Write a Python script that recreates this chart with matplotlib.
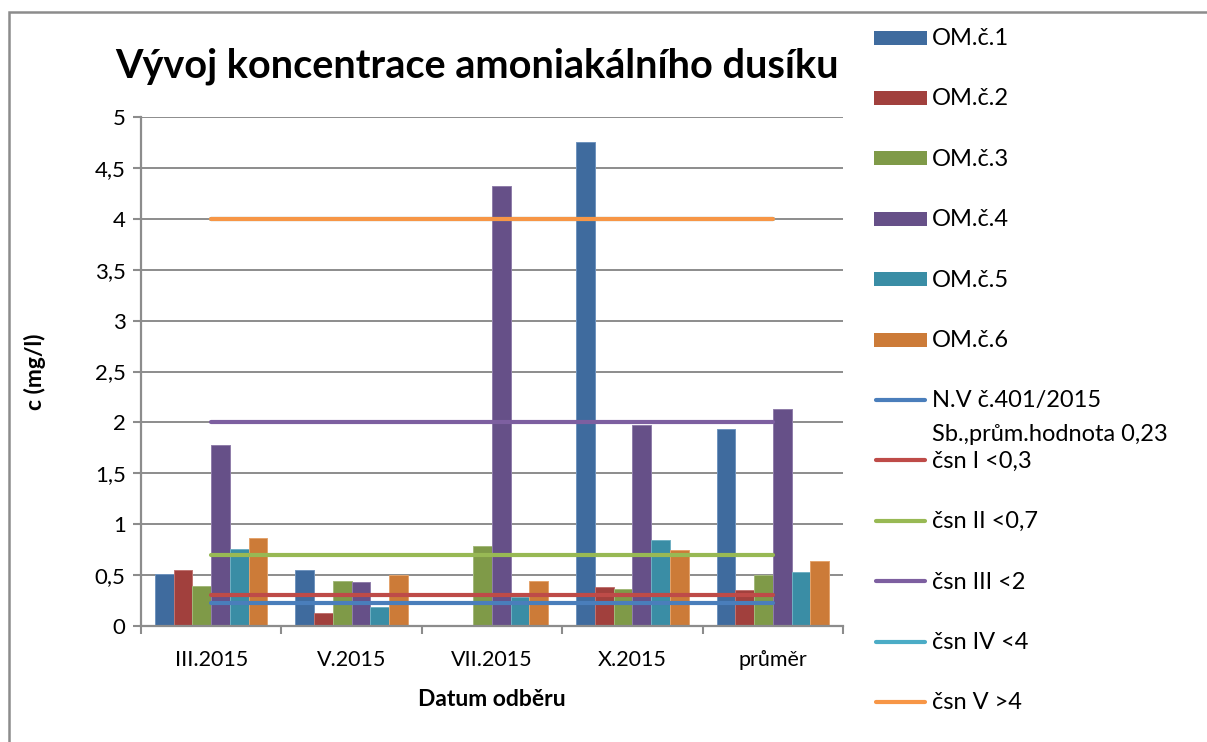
import matplotlib
matplotlib.use("Agg")
import matplotlib.pyplot as plt
from matplotlib.patches import Rectangle
from matplotlib.lines import Line2D
import numpy as np

# ---------------- data ----------------
categories = ["III.2015", "V.2015", "VII.2015", "X.2015", "průměr"]
om1 = [0.51, 0.55, np.nan, 4.75, 1.94]
om2 = [0.55, 0.13, np.nan, 0.38, 0.35]
om3 = [0.39, 0.44, 0.79, 0.36, 0.50]
om4 = [1.78, 0.43, 4.32, 1.97, 2.13]
om5 = [0.76, 0.19, 0.28, 0.84, 0.53]
om6 = [0.86, 0.50, 0.44, 0.75, 0.64]
bar_labels = ["OM.č.1", "OM.č.2", "OM.č.3", "OM.č.4", "OM.č.5", "OM.č.6"]

nv_limit = [0.23, 0.23, 0.23, 0.23, 0.23]
csn1 = [0.3, 0.3, 0.3, 0.3, 0.3]
csn2 = [0.7, 0.7, 0.7, 0.7, 0.7]
csn3 = [2, 2, 2, 2, 2]
csn4 = [4, 4, 4, 4, 4]
csn5 = [4, 4, 4, 4, 4]
line_labels = ["N.V č.401/2015", "čsn I <0,3", "čsn II <0,7",
               "čsn III <2", "čsn IV <4", "čsn V >4"]
nv_label_line2 = "Sb.,prům.hodnota 0,23"

y_ticks = [0, 0.5, 1, 1.5, 2, 2.5, 3, 3.5, 4, 4.5, 5]
y_ticklabels = ["0", "0,5", "1", "1,5", "2", "2,5", "3", "3,5", "4", "4,5", "5"]

title = "Vývoj koncentrace amoniakálního dusíku"
xlabel = "Datum odběru"
ylabel = "c (mg/l)"

# ---------------- style ----------------
bar_colors = ["#3F6B9E", "#A1403D", "#7F9A48", "#665088", "#3A8DA5", "#CC7B38"]
bar_edges = ["#6F93BE", "#C07370", "#A3B97A", "#8F7DAA", "#70B0C3", "#E3A36C"]
line_colors = ["#4A7EBB", "#BE4B48", "#98B954", "#7D5FA0", "#4BACC6", "#F79646"]

plt.rcParams["font.family"] = ["Lato", "DejaVu Sans"]

W, H = 1207, 742
fig = plt.figure(figsize=(W / 100, H / 100), dpi=100)


def fx(x):
    return x / W


def fy(y):
    return 1 - y / H


ax = fig.add_axes([fx(141), fy(626), (843 - 141) / W, (626 - 117) / H])

x = np.arange(len(categories))
series = [om1, om2, om3, om4, om5, om6]
n = len(series)
bw = 0.8 / n
for i, vals in enumerate(series):
    ax.bar(x + (i - (n - 1) / 2) * bw, vals, width=bw, color=bar_colors[i],
           edgecolor=bar_edges[i], linewidth=0.7, zorder=2)

lines = [nv_limit, csn1, csn2, csn3, csn4, csn5]
for i, vals in enumerate(lines):
    ax.plot(x, vals, color=line_colors[i], lw=3.0, solid_capstyle="round", zorder=3)

ax.set_xlim(-0.5, len(categories) - 0.5)
ax.set_ylim(0, 5)
ax.set_yticks(y_ticks)
ax.set_yticklabels(y_ticklabels, fontsize=16)
ax.set_xticks(x)
ax.set_xticklabels(categories, fontsize=15.5)
ax.set_xticks(np.arange(-0.5, len(categories), 1), minor=True)
ax.tick_params(axis="x", which="major", length=0, pad=17)
ax.tick_params(axis="x", which="minor", length=6, width=1.5, color="#8c8c8c", direction="out")
ax.tick_params(axis="y", length=6, width=1.5, color="#8c8c8c", direction="out", pad=5)

ax.yaxis.grid(True, color="#8c8c8c", lw=1.4, zorder=0)
ax.set_axisbelow(True)
for s in ["top", "right"]:
    ax.spines[s].set_visible(False)
for s in ["left", "bottom"]:
    ax.spines[s].set_color("#8c8c8c")
    ax.spines[s].set_linewidth(1.6)

# titles
fig.text(fx(477), fy(66), title, ha="center", va="center", fontsize=28.5, fontweight="bold")
fig.text(fx(35), fy(372), ylabel, ha="center", va="center", rotation=90,
         fontsize=16.5, fontweight="bold")
fig.text(fx(492), fy(700), xlabel, ha="center", va="center", fontsize=16.5, fontweight="bold")

# outer chart border (right and bottom edges fall outside the image)
fig.add_artist(Rectangle((fx(9), fy(900)), fx(1400) - fx(9), fy(12) - fy(900),
                         transform=fig.transFigure, fill=False,
                         edgecolor="#8c8c8c", lw=1.8))

# manual legend (Excel style)
leg_y0 = 37.5
leg_dy = 60.4
hx0, hx1 = 874, 927
tx = 932
base_off = 7.5
fs_leg = 17
k = 0
for i, lab in enumerate(bar_labels):
    yc = leg_y0 + k * leg_dy
    fig.add_artist(Rectangle((fx(hx0), fy(yc + 7)), fx(hx1) - fx(hx0), fy(yc - 7) - fy(yc + 7),
                             transform=fig.transFigure, facecolor=bar_colors[i],
                             edgecolor="none"))
    fig.text(fx(tx), fy(yc + base_off), lab, ha="left", va="baseline", fontsize=fs_leg)
    k += 1
for i, lab in enumerate(line_labels):
    yc = leg_y0 + k * leg_dy
    fig.add_artist(Line2D([fx(hx0 + 2), fx(hx1 - 2)], [fy(yc), fy(yc)],
                          transform=fig.transFigure, color=line_colors[i], lw=3.0,
                          solid_capstyle="round"))
    fig.text(fx(tx), fy(yc + base_off), lab, ha="left", va="baseline", fontsize=fs_leg)
    if i == 0:
        fig.text(fx(tx), fy(yc + base_off + 33.5), nv_label_line2, ha="left",
                 va="baseline", fontsize=fs_leg)
    k += 1

fig.savefig("out.png", dpi=100)
